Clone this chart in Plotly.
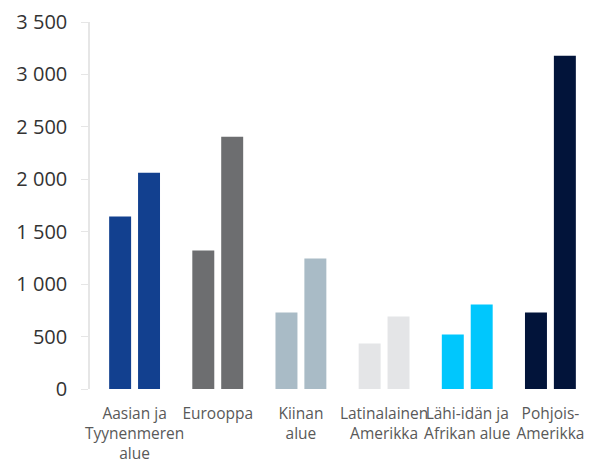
import plotly.graph_objects as go

categories = ["Aasian ja<br>Tyynenmeren<br>alue", "Eurooppa", "Kiinan<br>alue",
              "Latinalainen<br>Amerikka", "Lähi-idän ja<br>Afrikan alue", "Pohjois-<br>Amerikka"]
series_a = [1645, 1320, 730, 435, 520, 730]
series_b = [2062, 2406, 1245, 692, 806, 3178]
colors = ["#12408F", "#6D6E70", "#A9BBC6", "#E4E5E7", "#00C7FD", "#02143A"]
y_tickvals = [0, 500, 1000, 1500, 2000, 2500, 3000, 3500]
y_ticktext = ["0", "500", "1 000", "1 500", "2 000", "2 500", "3 000", "3 500"]

fig = go.Figure()
fig.add_trace(go.Bar(x=categories, y=series_a, marker=dict(color=colors, line=dict(width=0)), showlegend=False))
fig.add_trace(go.Bar(x=categories, y=series_b, marker=dict(color=colors, line=dict(width=0)), showlegend=False))

fig.update_layout(
    width=584, height=456,
    margin=dict(l=82, r=0, t=14, b=75, autoexpand=False),
    paper_bgcolor="white", plot_bgcolor="white",
    barmode="group", bargap=0.305, bargroupgap=0.24,
    font=dict(family="Open Sans, sans-serif", color="#404040"),
    xaxis=dict(showline=False, ticks="", tickfont=dict(size=15.5, color="#595959"), showgrid=False,
               automargin=False, ticklabelstandoff=13, tickangle=0, range=[-0.536, 5.5]),
    yaxis=dict(range=[0, 3500], tickvals=y_tickvals, ticktext=y_ticktext, showgrid=False,
               showline=True, linecolor="#E6E6E6", linewidth=1.5, ticks="outside", ticklen=7,
               tickcolor="#E6E6E6", tickfont=dict(size=20, color="#333333"), zeroline=False,
               ticklabelstandoff=10, automargin=False),
)
fig.write_html("out.html")
